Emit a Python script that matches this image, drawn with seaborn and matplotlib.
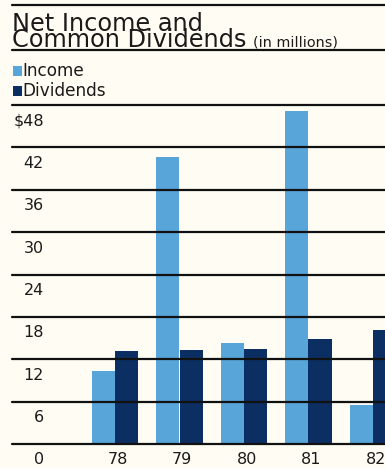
import matplotlib
matplotlib.use("Agg")
import matplotlib.pyplot as plt
import matplotlib.transforms as mtransforms
import seaborn as sns
import pandas as pd

# Fiscal years and amounts (in millions of dollars)
years = ["78", "79", "80", "81", "82"]
income = [10.4, 40.6, 14.3, 47.2, 5.5]
dividends = [13.2, 13.3, 13.5, 14.9, 16.1]
y_ticks = [0, 6, 12, 18, 24, 30, 36, 42, 48]
y_labels = ["0", "6", "12", "18", "24", "30", "36", "42", "$48"]
series_names = ["Income", "Dividends"]

light_blue = "#58a5da"
navy = "#0c2f63"
paper = "#fffdf3"
ink = "#1a1a1a"

sns.set_theme(style="white")
plt.rcParams["font.family"] = ["DejaVu Sans"]

df = pd.DataFrame({
    "year": years * 2,
    "value": income + dividends,
    "series": [series_names[0]] * len(years) + [series_names[1]] * len(years),
})

W, H = 385, 468
fig = plt.figure(figsize=(W / 100, H / 100), dpi=100, facecolor=paper)

# Axes spans from the left rule (x=12px) to the right edge, 0 at y=444px, 48 at y=105px
left_px, right_px = 12, 385
top_px, bottom_px = 105, 444
ax = fig.add_axes([left_px / W, 1 - bottom_px / H,
                   (right_px - left_px) / W, (bottom_px - top_px) / H])
ax.set_facecolor(paper)

sns.barplot(data=df, x="year", y="value", hue="series",
            palette=[light_blue, navy], width=0.72, saturation=1,
            dodge=True, legend=False, ax=ax, zorder=2,
            linewidth=0, edgecolor="none")

# Group centres sit 64.5 px apart with the first at x=115 px
px_per_unit = 64.5
ax.set_xlim((left_px - 115) / px_per_unit, (right_px - 115) / px_per_unit)
ax.set_ylim(0, 48)
for s in ax.spines.values():
    s.set_visible(False)
ax.set_xticks([])
ax.set_yticks([])
ax.set_xlabel("")
ax.set_ylabel("")

# Horizontal rules over the bars
for v in y_ticks:
    ax.axhline(v, color="#111111", lw=1.6, zorder=5, clip_on=False)

# Value labels just below each rule
lbl_tr = mtransforms.blended_transform_factory(fig.transFigure, ax.transData)
offset = mtransforms.ScaledTranslation(0, -16 / 100, fig.dpi_scale_trans)
for v, lab in zip(y_ticks, y_labels):
    ax.text(44 / W, v, lab, transform=lbl_tr + offset, ha="right", va="center",
            fontsize=11.5, color=ink)

# Year labels below the baseline
for i, yr in enumerate(years):
    ax.text(i + 0.04, 0, yr, transform=ax.transData + offset, ha="center", va="center",
            fontsize=11.5, color=ink)

# Top rules and title
def hrule(y_px):
    fig.add_artist(plt.Line2D([left_px / W, 1], [1 - y_px / H, 1 - y_px / H],
                              color="#111111", lw=1.6, transform=fig.transFigure))

hrule(5)
hrule(49.5)
fig.text(12 / W, 1 - 47 / H, "Net Income and\nCommon Dividends", fontsize=17.3,
         color=ink, ha="left", va="baseline", linespacing=0.6)
fig.text(253 / W, 1 - 46 / H, "(in millions)", fontsize=10.4, color=ink,
         ha="left", va="baseline")

# Legend swatches
for (name, col, base) in [(series_names[0], light_blue, 75.5), (series_names[1], navy, 95.5)]:
    fig.add_artist(plt.Rectangle((13 / W, 1 - base / H), 9 / W, 9 / H,
                                 facecolor=col, edgecolor="none", transform=fig.transFigure))
    fig.text(22.5 / W, 1 - base / H, name, fontsize=12.2, color=ink,
             ha="left", va="baseline")

fig.savefig("out.png", dpi=100, facecolor=paper)
